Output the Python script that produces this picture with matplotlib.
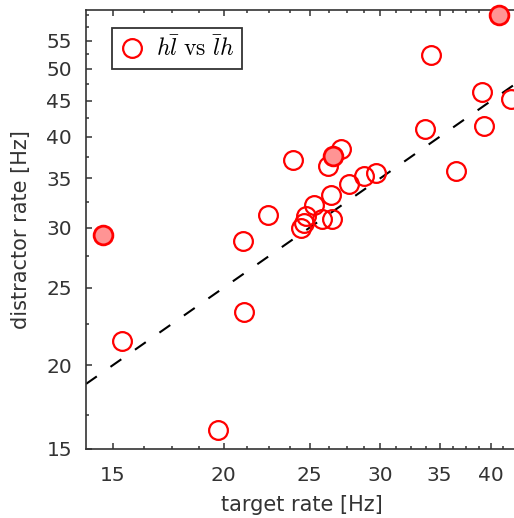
import numpy as np
import matplotlib
matplotlib.use("Agg")
import matplotlib.pyplot as plt
from matplotlib.ticker import FixedLocator, NullFormatter

plt.rcParams['mathtext.fontset'] = 'cm'
plt.rcParams['lines.scale_dashes'] = False

# ---- data ----
target_open = [15.37, 19.73, 21.06, 21.01, 22.41, 23.93, 24.44, 24.65, 24.78, 25.25,
               25.83, 26.42, 26.48, 26.18, 27.08, 27.65, 28.74, 29.68, 33.73, 34.23,
               36.52, 39.02, 39.30, 42.11]
distract_open = [21.40, 16.35, 23.28, 28.76, 31.17, 37.10, 29.97, 30.45, 31.07, 32.16,
                 30.79, 33.19, 30.82, 36.39, 38.47, 34.33, 35.28, 35.62, 40.97, 52.39,
                 35.78, 46.35, 41.42, 45.24]
target_filled = [14.62, 26.57, 40.78]
distract_filled = [29.36, 37.64, 59.98]

xticks = [15, 20, 25, 30, 35, 40]
xticklabels = ['15', '20', '25', '30', '35', '40']
yticks = [15, 20, 25, 30, 35, 40, 45, 50, 55]
yticklabels = ['15', '20', '25', '30', '35', '40', '45', '50', '55']
ref_offset = 5.0          # reference line: distractor = target + 5
legend_label = r'$h\bar{l}\ \mathrm{vs}\ \bar{l}h$'
xlabel = 'target rate [Hz]'
ylabel = 'distractor rate [Hz]'

# ---- y scale: log(y - 5), linear below 17.5 ----
C = 5.0
YS = 17.5
US = np.log(YS - C)
SLOPE = (US - np.log(11.0)) / 2.5


def fwd(y):
    y = np.asarray(y, dtype=float)
    hi = np.log(np.maximum(y, YS) - C)
    lo = US - (YS - y) * SLOPE
    return np.where(y >= YS, hi, lo)


def inv(u):
    u = np.asarray(u, dtype=float)
    hi = np.exp(np.maximum(u, US)) + C
    lo = YS - (US - u) / SLOPE
    return np.where(u >= US, hi, lo)


fig = plt.figure(figsize=(5.14, 5.18), dpi=100)
ax = fig.add_axes([86 / 514, 69 / 518, 442 / 514, 439 / 518])
ax.set_xscale('log')
ax.set_yscale('function', functions=(fwd, inv))
ax.set_xlim(14, 44)
ax.set_ylim(15, 61)

edge = '#333333'
xl = np.array(ax.get_xlim())
ax.plot(xl, xl + ref_offset, color='black', lw=1.5, ls=(0, (9.5, 12)), zorder=2)

ax.plot(target_open, distract_open, 'o', ms=13.5, mfc='none', mec='red', mew=1.6,
        zorder=3, label=legend_label)
ax.plot(target_filled, distract_filled, 'o', ms=13.5, mfc='#ff9494', mec='red', mew=2.0,
        zorder=4, clip_on=False)

ax.xaxis.set_major_locator(FixedLocator(xticks))
ax.set_xticklabels(xticklabels)
ax.xaxis.set_minor_locator(FixedLocator(np.arange(13.75, 45, 1.25)))
ax.xaxis.set_minor_formatter(NullFormatter())
ax.yaxis.set_major_locator(FixedLocator(yticks))
ax.set_yticklabels(yticklabels)
ax.yaxis.set_minor_locator(FixedLocator(np.arange(15, 62, 2.5)))
ax.yaxis.set_minor_formatter(NullFormatter())

ax.tick_params(which='both', direction='in', top=True, right=True, color=edge,
               width=1.1, labelcolor=edge, labelsize=14.5)
ax.tick_params(which='major', length=4)
ax.tick_params(which='minor', length=2.5)
ax.tick_params(axis='x', which='major', pad=12)
ax.tick_params(axis='y', which='major', pad=10)
for s in ax.spines.values():
    s.set_color(edge)
    s.set_linewidth(1.2)

ax.set_xlabel(xlabel, fontsize=15, color=edge)
ax.set_ylabel(ylabel, fontsize=15, color=edge)
ax.xaxis.set_label_coords((302 - 86) / 442, -0.105)
ax.yaxis.set_label_coords(-0.124, 0.5)

leg = ax.legend(loc='upper left', bbox_to_anchor=(26 / 442, 1 - 18 / 439), fontsize=17,
                frameon=True, fancybox=False, edgecolor='black', handlelength=1.0,
                handletextpad=0.5, borderpad=0.35, borderaxespad=0)
leg.get_frame().set_linewidth(1.3)

fig.savefig('out.png', dpi=100)
